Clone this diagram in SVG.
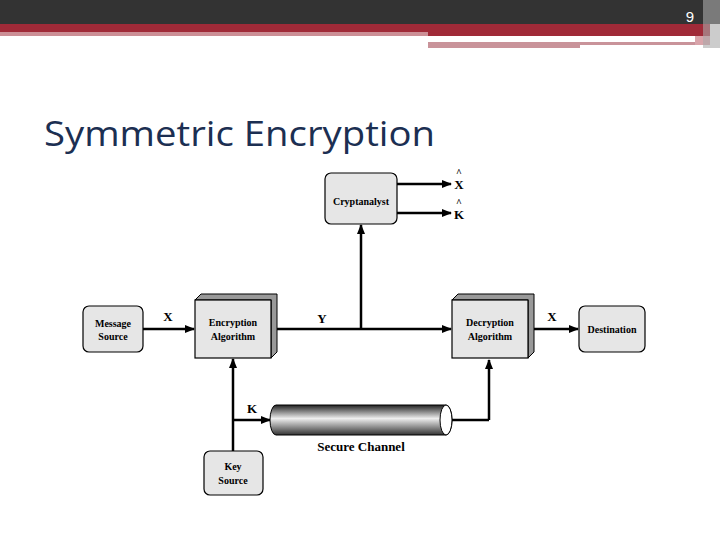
<svg xmlns="http://www.w3.org/2000/svg" width="720" height="540" viewBox="0 0 720 540">
<defs>
<marker id="ar" markerWidth="10" markerHeight="8" refX="9" refY="4" orient="auto" markerUnits="userSpaceOnUse"><path d="M0,0L10,4L0,8z" fill="#000"/></marker>
<linearGradient id="cyl" x1="0" y1="0" x2="0" y2="1"><stop offset="0" stop-color="#222"/><stop offset="0.45" stop-color="#eee"/><stop offset="1" stop-color="#333"/></linearGradient>
<style>
.b{fill:#e6e6e6;stroke:#000;stroke-width:1.2}
.t{font-family:"Liberation Serif",serif;font-weight:bold;font-size:10px;text-anchor:middle}
.l{font-family:"Liberation Serif",serif;font-weight:bold;font-size:13px;text-anchor:middle}
.h{font-family:"Liberation Serif",serif;font-weight:bold;font-size:10px;text-anchor:middle}
.c{stroke:#000;stroke-width:2.5;fill:none}
</style>
</defs>
<rect width="720" height="540" fill="#fff"/>
<rect x="0" y="0" width="720" height="24" fill="#333"/>
<rect x="0" y="24" width="710" height="8" fill="#a02a38"/>
<rect x="0" y="32" width="428" height="4" fill="#cc8f96"/>
<rect x="428" y="32" width="282" height="4" fill="#a02a38"/>
<rect x="428" y="42" width="152" height="6" fill="#c9939a"/>
<rect x="580" y="42" width="130" height="3" fill="#c9939a"/>
<rect x="695" y="36" width="15" height="9" fill="#d9a4aa"/>
<rect x="703" y="0" width="17" height="48" fill="#aaa" opacity="0.6"/>
<text x="690" y="22" font-family="Liberation Sans,sans-serif" font-size="15" fill="#fff" text-anchor="middle">9</text>
<text x="44" y="146" font-family="Open Sans,sans-serif" font-size="34" fill="#1c2f52" textLength="391" lengthAdjust="spacingAndGlyphs">Symmetric Encryption</text>
<g id="connectors">
<line class="c" x1="143" y1="329" x2="194" y2="329" marker-end="url(#ar)"/>
<line class="c" x1="275" y1="329" x2="451" y2="329" marker-end="url(#ar)"/>
<line class="c" x1="361" y1="329" x2="361" y2="225" marker-end="url(#ar)"/>
<line class="c" x1="397" y1="184" x2="451" y2="184" marker-end="url(#ar)"/>
<line class="c" x1="397" y1="213" x2="451" y2="213" marker-end="url(#ar)"/>
<line class="c" x1="533" y1="329" x2="578" y2="329" marker-end="url(#ar)"/>
<line class="c" x1="233" y1="451" x2="233" y2="359" marker-end="url(#ar)"/>
<line class="c" x1="233" y1="420" x2="270" y2="420" marker-end="url(#ar)"/>
<line class="c" x1="452" y1="420" x2="489" y2="420"/>
<line class="c" x1="489" y1="420" x2="489" y2="360" marker-end="url(#ar)"/>
<text class="l" x="168" y="321">X</text>
<text class="l" x="322" y="323">Y</text>
<text class="l" x="552" y="321">X</text>
<text class="l" x="252" y="413">K</text>
<text class="l" x="459" y="189">X</text><text class="h" x="459" y="176">^</text>
<text class="l" x="459" y="219">K</text><text class="h" x="459" y="206">^</text>
</g>
<g id="msg"><rect class="b" x="83" y="306" width="60" height="46" rx="6"/><text class="t" x="113" y="327">Message</text><text class="t" x="113" y="340">Source</text></g>
<g id="enc"><path d="M195,300L201,294L277,294L277,352L271,358L271,300z" fill="#999" stroke="#000"/><rect class="b" x="195" y="300" width="76" height="58"/><text class="t" x="233" y="326">Encryption</text><text class="t" x="233" y="340">Algorithm</text></g>
<g id="dec"><path d="M452,300L458,294L534,294L534,352L528,358L528,300z" fill="#999" stroke="#000"/><rect class="b" x="452" y="300" width="76" height="58"/><text class="t" x="490" y="326">Decryption</text><text class="t" x="490" y="340">Algorithm</text></g>
<g id="dest"><rect class="b" x="579" y="306" width="66" height="46" rx="6"/><text class="t" x="612" y="333">Destination</text></g>
<g id="crypt"><rect class="b" x="325" y="173" width="72" height="51" rx="6"/><text class="t" x="361" y="205">Cryptanalyst</text></g>
<g id="key"><rect class="b" x="204" y="451" width="59" height="44" rx="6"/><text class="t" x="233" y="470">Key</text><text class="t" x="233" y="484">Source</text></g>
<g id="channel"><path d="M276,405L446,405A6,15 0 0 1 446,435L276,435A6,15 0 0 1 276,405z" fill="url(#cyl)" stroke="#000"/><ellipse cx="446" cy="420" rx="6" ry="15" fill="#fff" stroke="#000"/><text class="l" x="361" y="451">Secure Channel</text></g>
</svg>
